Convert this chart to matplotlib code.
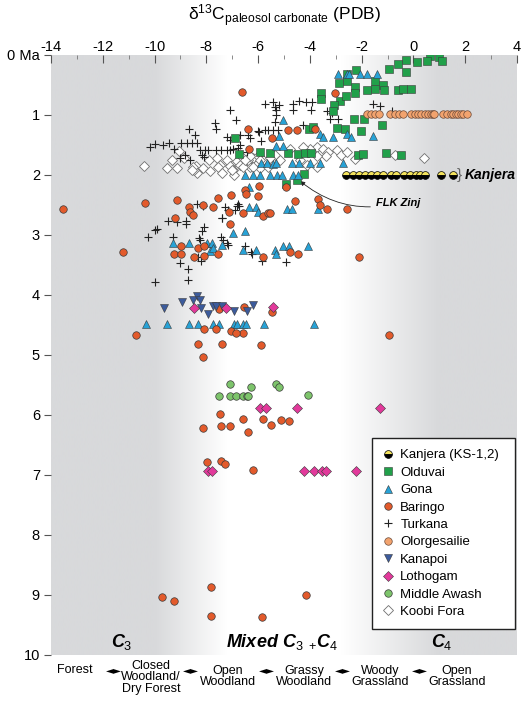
import numpy as np
import matplotlib
matplotlib.use("Agg")
from matplotlib import pyplot as plt
from matplotlib.colors import LinearSegmentedColormap

plt.rcParams['font.family'] = ['Liberation Sans', 'DejaVu Sans']
plt.rcParams['axes.unicode_minus'] = False
plt.rcParams['mathtext.fontset'] = 'custom'
plt.rcParams['mathtext.rm'] = 'Liberation Sans'
plt.rcParams['mathtext.it'] = 'Liberation Sans:italic:bold'
plt.rcParams['mathtext.bf'] = 'Liberation Sans:bold'

# --- data: d13C (x) vs age in Ma (y) ---
olduvai_x = [0.63, 0.99, 1.12, 0.54, 0.15, -0.27, -0.59, -0.94, -0.27,
             -2.22, -2.56, -2.56, -2.87, -2.26, -2.26, -1.79, -1.48, -1.48, -1.17, -1.14, -0.60, -0.42, -0.11,
             -3.59, -3.59, -2.84, -2.61, -3.06, -3.12,
             -2.30, -1.90, -1.20, -2.97, -2.66, -2.02, -4.04, -3.87,
             -6.90, -6.73, -5.93, -5.54, -4.84, -4.45, -4.19, -3.94, -2.16, -1.94, -1.07, -0.47,
             -4.22, -4.48, -4.93]
olduvai_y = [0.01, 0.04, 0.10, 0.10, 0.12, 0.08, 0.15, 0.23, 0.29,
             0.25, 0.31, 0.43, 0.47, 0.53, 0.64, 0.59, 0.44, 0.56, 0.50, 0.59, 0.58, 0.57, 0.57,
             0.64, 0.73, 0.76, 0.68, 0.84, 0.93,
             1.06, 1.06, 1.17, 1.22, 1.23, 1.26, 1.24, 1.20,
             1.38, 1.65, 1.61, 1.63, 1.63, 1.65, 1.63, 1.63, 1.66, 1.65, 1.64, 1.66,
             1.99, 2.09, 2.15]

gona_x = [-2.91, -2.58, -2.48, -2.07, -1.81, -1.42,
          -5.03, -5.19, -3.61, -3.49, -3.12, -2.58, -2.40, -1.58,
          -5.29, -5.03,
          -5.87, -5.67, -5.42, -5.29, -4.71, -4.41, -4.00, -3.61, -2.71,
          -6.51, -6.19, -5.93, -5.54, -5.26, -5.09, -4.64, -4.45,
          -6.34,
          -6.34, -6.08, -6.00, -4.90, -4.71, -3.70,
          -6.98, -6.50,
          -9.30, -8.66, -7.99, -7.80, -7.41, -7.86, -7.73, -6.60, -6.08, -5.35, -5.31, -5.03, -4.81, -4.09,
          -10.34, -9.51, -8.66, -8.31, -7.76, -7.51, -6.92, -6.83, -6.58, -6.48, -5.78, -3.85]
gona_y = [0.31, 0.31, 0.31, 0.31, 0.31, 0.31,
          1.09, 1.35, 1.31, 1.36, 1.36, 1.31, 1.36, 1.35,
          1.52, 1.52,
          1.80, 1.80, 1.82, 1.80, 1.80, 1.80, 1.80, 1.80, 1.80,
          2.00, 2.00, 2.00, 2.00, 2.00, 2.00, 2.00, 2.00,
          2.20,
          2.54, 2.54, 2.61, 2.56, 2.56, 2.56,
          2.96, 2.93,
          3.14, 3.14, 3.13, 3.14, 3.17, 3.26, 3.22, 3.25, 3.25, 3.25, 3.31, 3.19, 3.19, 3.19,
          4.48, 4.48, 4.48, 4.48, 4.48, 4.48, 4.48, 4.48, 4.48, 4.48, 4.48, 4.48]

baringo_x = [-6.64, -3.03, -6.38, -6.34, -5.46, -4.84, -4.51, -3.81,
             -13.55, -10.37, -9.15, -11.21, -9.21,
             -8.66, -8.63, -8.50, -8.14, -7.73, -7.54, -7.06, -7.11, -6.60, -7.09, -6.50, -6.47, -5.96, -6.00, -5.80, -5.61,
             -8.98, -9.24, -8.99, -8.34, -8.08, -8.47, -8.08, -7.54, -5.83,
             -4.58, -3.70, -3.61, -3.35, -2.58, -4.93, -5.54,
             -4.77, -4.45, -2.10,
             -6.54, -5.48, -7.50, -6.58, -0.94, -5.89, -10.73, -8.08, -7.63, -7.06, -6.86, -8.31, -7.39, -8.12,
             -7.48, -8.12, -7.44, -7.09, -6.58, -6.38, -5.83, -5.52, -5.13, -4.82,
             -7.97, -7.44, -7.27, -6.19,
             -9.70, -9.25, -7.82, -7.82, -5.84, -4.15]
baringo_y = [0.61, 0.64, 1.23, 1.56, 1.39, 1.25, 1.25, 1.23,
             2.57, 2.46, 2.42, 3.29, 2.71,
             2.53, 2.61, 2.67, 2.50, 2.54, 2.39, 2.33, 2.61, 2.64, 2.81, 2.25, 2.32, 2.19, 2.35, 2.68, 2.64,
             3.19, 3.32, 3.32, 3.22, 3.18, 3.37, 3.35, 3.31, 3.37,
             2.43, 2.40, 2.50, 2.56, 2.56, 2.20, 2.64,
             3.29, 3.32, 3.36,
             4.20, 4.28, 4.24, 4.64, 4.67, 4.83, 4.67, 4.57, 4.57, 4.60, 4.64, 4.81, 4.82, 5.04,
             5.98, 6.21, 6.18, 6.18, 6.07, 6.28, 6.06, 6.17, 6.09, 6.10,
             6.79, 6.77, 6.81, 6.91,
             9.03, 9.10, 8.86, 9.35, 9.36, 9.00]

turkana_x = [-7.09, -6.86, -7.67, -7.63, -8.66, -8.44,
             -5.74, -5.44, -5.35, -5.19, -5.29, -4.67, -4.41, -4.15, -3.90, -4.67, -3.94,
             -5.29, -5.35, -3.32, -3.16, -3.23, -2.91, -1.58, -1.29, -0.82, -5.42, -5.22, -4.26,
             -7.22, -7.09, -6.70, -6.38, -6.02, -6.32, -5.96, -5.74, -5.61, -5.87, -6.44, -6.70,
             -10.18, -10.00, -9.66, -9.44, -8.98, -8.76, -8.57, -8.37,
             -9.24, -9.02, -8.83, -8.63,
             -8.25, -8.05, -7.93, -7.63, -7.44, -7.22, -7.09, -6.96, -8.18, -8.09, -6.77,
             -8.37, -8.12, -7.28, -7.15, -6.83, -6.77, -7.39, -9.47, -9.15, -8.79, -8.79,
             -9.98, -9.92, -10.27, -9.30, -8.09, -8.18, -8.27, -8.25, -7.45, -7.37, -7.22, -7.15,
             -6.51, -6.28, -9.02, -8.72, -8.21, -9.98, -8.72, -8.31, -6.25, -5.86, -4.94,
             -6.90, -6.73, -7.41]
turkana_y = [0.92, 1.09, 1.13, 1.24, 1.24, 1.33,
             0.82, 0.78, 0.87, 0.83, 0.92, 0.82, 0.77, 0.78, 0.78, 0.92, 0.92,
             1.00, 1.11, 0.93, 0.96, 1.07, 1.06, 0.82, 0.85, 0.93, 1.25, 1.25, 1.17,
             1.37, 1.42, 1.33, 1.33, 1.26, 1.39, 1.28, 1.25, 1.25, 1.44, 1.61, 1.50,
             1.54, 1.49, 1.50, 1.46, 1.46, 1.46, 1.46, 1.46,
             1.56, 1.71, 1.67, 1.75,
             1.58, 1.58, 1.58, 1.58, 1.58, 1.58, 1.58, 1.57, 1.67, 1.70, 1.55,
             2.48, 2.52, 2.54, 2.58, 2.52, 2.48, 2.71, 2.76, 2.79, 2.76, 2.82,
             2.92, 2.90, 3.03, 3.04, 2.86, 2.93, 3.05, 3.09, 3.04, 3.08, 3.14, 3.17,
             3.19, 3.29, 3.47, 3.56, 3.43, 3.79, 3.75, 3.36, 3.31, 3.44, 3.45,
             2.58, 2.52, 2.72]

olorgesailie_x = [-1.81, -1.65, -1.49, -1.32, -0.91, -0.71, -0.55, -0.40, -0.11, 0.05, 0.18,
                  0.31, 0.44, 0.57, 0.66, 0.74, 0.80, 1.15, 1.30, 1.44, 1.53, 1.64, 1.73, 1.83, 1.92, 2.05]
olorgesailie_y = [0.99] * len(olorgesailie_x)

kanjera_x = [-2.60, -2.33, -2.11, -1.88, -1.65, -1.42, -1.18, -0.86, -0.66, -0.38, -0.12, 0.08, 0.27, 0.44,
             1.08, 1.52]
kanjera_y = [2.0] * len(kanjera_x)

kanapoi_x = [-9.62, -8.95, -8.53, -8.35, -8.25, -8.22, -7.93, -7.73, -7.63, -7.41, -6.92, -6.44, -6.21]
kanapoi_y = [4.21, 4.12, 4.08, 4.01, 4.08, 4.21, 4.31, 4.18, 4.18, 4.18, 4.26, 4.27, 4.16]

lothogam_x = [-8.47, -7.24, -5.42, -5.93, -5.69, -4.51, -1.30, -7.93, -7.80, -4.23, -3.85, -3.55, -3.39, -2.22]
lothogam_y = [4.21, 4.21, 4.20, 5.88, 5.88, 5.88, 5.88, 6.94, 6.94, 6.94, 6.94, 6.94, 6.94, 6.94]

awash_x = [-7.09, -6.28, -7.50, -7.09, -6.86, -6.58, -6.44, -6.38, -5.29, -5.19, -4.09]
awash_y = [5.49, 5.54, 5.68, 5.68, 5.68, 5.68, 5.68, 5.68, 5.49, 5.54, 5.67]

koobi_x = [-10.40, -9.53, -9.15, -9.34, -9.05, -8.41, -8.12, -8.37, -8.47, -8.85,
           -7.89, -7.60, -7.47, -7.22, -7.09, -6.96, -6.83, -6.70, -6.64, -6.44, -6.32, -6.19, -6.06, -6.92,
           -8.51, -8.57, -7.86, -7.54, -7.41, -7.02, -6.58, -6.38, -6.00, -5.80, -5.93, -5.61, -5.48, -5.35,
           -3.74, -3.49, -3.29, -2.97, -2.78, -2.58, -3.36, -3.74, -3.74, -4.13, -4.39, -4.00, -4.26, -4.77,
           -5.16, -5.54, -5.93, -6.32, -6.51, -6.19,
           -2.26, -0.72, 0.41]
koobi_y = [1.85, 1.88, 1.88, 1.75, 1.60, 1.85, 1.89, 1.96, 1.92, 1.72,
           1.75, 1.72, 1.83, 1.75, 1.85, 1.92, 1.76, 1.83, 1.70, 1.78, 1.86, 1.72, 1.81, 2.00,
           1.86, 1.92, 1.94, 1.86, 1.97, 1.92, 1.86, 1.75, 1.69, 1.75, 1.89, 1.86, 1.75, 1.67,
           1.53, 1.56, 1.61, 1.58, 1.67, 1.61, 1.69, 1.69, 1.86, 1.83, 1.75, 1.56, 1.53, 1.56,
           1.75, 1.72, 1.75, 1.69, 1.75, 1.86,
           1.74, 1.67, 1.72]

habitats = ["Forest", "Closed\nWoodland/\nDry Forest", "Open\nWoodland", "Grassy\nWoodland",
            "Woody\nGrassland", "Open\nGrassland"]
habitat_x = [-13.07, -10.14, -7.17, -4.23, -1.30, 1.68]

# --- figure ---
fig = plt.figure(figsize=(5.21, 7.03), dpi=100)
ax = fig.add_axes([51/521, 1-655/703, 466/521, 600/703])

# background shading C3 -> mixed -> C4
gx = np.linspace(-14, 4, 721)
shade = np.interp(gx, [-14, -10.0, -7.2, -2.8, 1.0, 4], [1, 1, 0, 0, 1, 1])
cmap = LinearSegmentedColormap.from_list('bg', ['#ffffff', '#d8d9db'])
ax.imshow(shade[np.newaxis, :], cmap=cmap, vmin=0, vmax=1, aspect='auto',
          extent=[-14, 4, 10, 0], zorder=0, interpolation='bilinear')

ec = '#3a3a3a'
ax.plot(koobi_x, koobi_y, 'D', ms=4.8, mfc='white', mec='#707070', mew=0.6, zorder=2, label='Koobi Fora')
ax.plot(turkana_x, turkana_y, '+', ms=5.5, color='#222222', mew=0.8, zorder=3, label='Turkana')
ax.plot(olduvai_x, olduvai_y, 's', ms=5.2, mfc='#21a04a', mec=ec, mew=0.4, zorder=4, label='Olduvai')
ax.plot(gona_x, gona_y, '^', ms=6.2, mfc='#27a2d6', mec=ec, mew=0.4, zorder=4, label='Gona')
ax.plot(baringo_x, baringo_y, 'o', ms=5.4, mfc='#e35a2b', mec=ec, mew=0.5, zorder=4, label='Baringo')
ax.plot(olorgesailie_x, olorgesailie_y, 'o', ms=5.4, mfc='#f2a36e', mec='#6a4a3a', mew=0.5, zorder=4,
        label='Olorgesailie')
ax.plot(kanapoi_x, kanapoi_y, 'v', ms=6.2, mfc='#3c5b9c', mec=ec, mew=0.4, zorder=4, label='Kanapoi')
ax.plot(lothogam_x, lothogam_y, 'D', ms=4.8, mfc='#e2399b', mec=ec, mew=0.4, zorder=5, label='Lothogam')
ax.plot(awash_x, awash_y, 'o', ms=5.4, mfc='#7dc46b', mec=ec, mew=0.5, zorder=4, label='Middle Awash')
ax.plot(kanjera_x, kanjera_y, 'o', ms=5.6, mfc='#f4e35c', mfcalt='black', fillstyle='top',
        mec='black', mew=0.5, zorder=5, label='Kanjera (KS-1,2)')

ax.set_xlim(-14, 4)
ax.set_ylim(10, 0)
for s in ax.spines.values():
    s.set_visible(False)

ax.xaxis.tick_top()
ax.set_xticks(range(-14, 5, 2))
ax.set_xticks(range(-13, 4, 2), minor=True)
ax.tick_params(axis='x', which='major', direction='in', length=6, width=0.8, color='#555555',
               labelsize=10.5, pad=0.5)
ax.tick_params(axis='x', which='minor', direction='in', length=3, width=0.6, color='#777777')
ax.set_yticks(range(0, 11))
ax.set_yticklabels(['0 Ma'] + [str(i) for i in range(1, 11)])
ax.tick_params(axis='y', direction='out', length=5, width=0.8, color='#555555', labelsize=10.5, pad=3)

fig.text(0.547, 0.978, 'δ$^{13}$C$_{\\rm paleosol\\ carbonate}$ (PDB)', ha='center', va='center',
         fontsize=12.5)

# region labels
ax.text(-11.25, 9.78, r'$\mathit{C_3}$', fontsize=13, ha='center', va='center')
ax.text(-5.1, 9.78, r'$\mathit{Mixed\ C_3\ _{+}C_4}$', fontsize=13, ha='center', va='center')
ax.text(1.1, 9.78, r'$\mathit{C_4}$', fontsize=13, ha='center', va='center')

# annotations
ax.text(1.78, 2.0, '}', color='#666666', fontsize=11, ha='center', va='center')
ax.text(2.0, 2.0, 'Kanjera', fontsize=10, fontweight='bold', style='italic', ha='left', va='center')
ax.annotate('FLK Zinj', xy=(-4.38, 2.10), xytext=(-1.45, 2.47), fontsize=8, fontweight='bold',
            style='italic', ha='left', va='center',
            arrowprops=dict(arrowstyle='-|>', color='#222222', lw=0.6, mutation_scale=7,
                            shrinkA=2, shrinkB=0, connectionstyle='arc3,rad=-0.25'))

# habitat labels along bottom
tr = ax.get_xaxis_transform()
for lab, hx in zip(habitats, habitat_x):
    n = lab.count('\n') + 1
    yc = {1: -0.025, 2: -0.036, 3: -0.037}[n]
    ax.text(hx, yc, lab, transform=tr, ha='center', va='center', fontsize=9, linespacing=0.95)
for a, b in zip(habitat_x[:-1], habitat_x[1:]):
    ax.text((a + b) / 2 + 0.05, -0.025, '◄►', transform=tr, ha='center', va='center', fontsize=7.5,
            family='DejaVu Sans')

h, l = ax.get_legend_handles_labels()
order = ['Kanjera (KS-1,2)', 'Olduvai', 'Gona', 'Baringo', 'Turkana', 'Olorgesailie', 'Kanapoi',
         'Lothogam', 'Middle Awash', 'Koobi Fora']
hd = dict(zip(l, h))
leg = ax.legend([hd[k] for k in order], order, loc='upper left',
                bbox_to_anchor=(372/521, 77/703, 143/521, 188/703), mode='expand',
                bbox_transform=fig.transFigure, fancybox=False, framealpha=1, edgecolor='#222222',
                fontsize=9.5, handlelength=0.8, handletextpad=0.5, labelspacing=0.39, borderpad=0.85,
                borderaxespad=0)
leg.get_frame().set_linewidth(1.0)

plt.savefig('out.png', dpi=100)
